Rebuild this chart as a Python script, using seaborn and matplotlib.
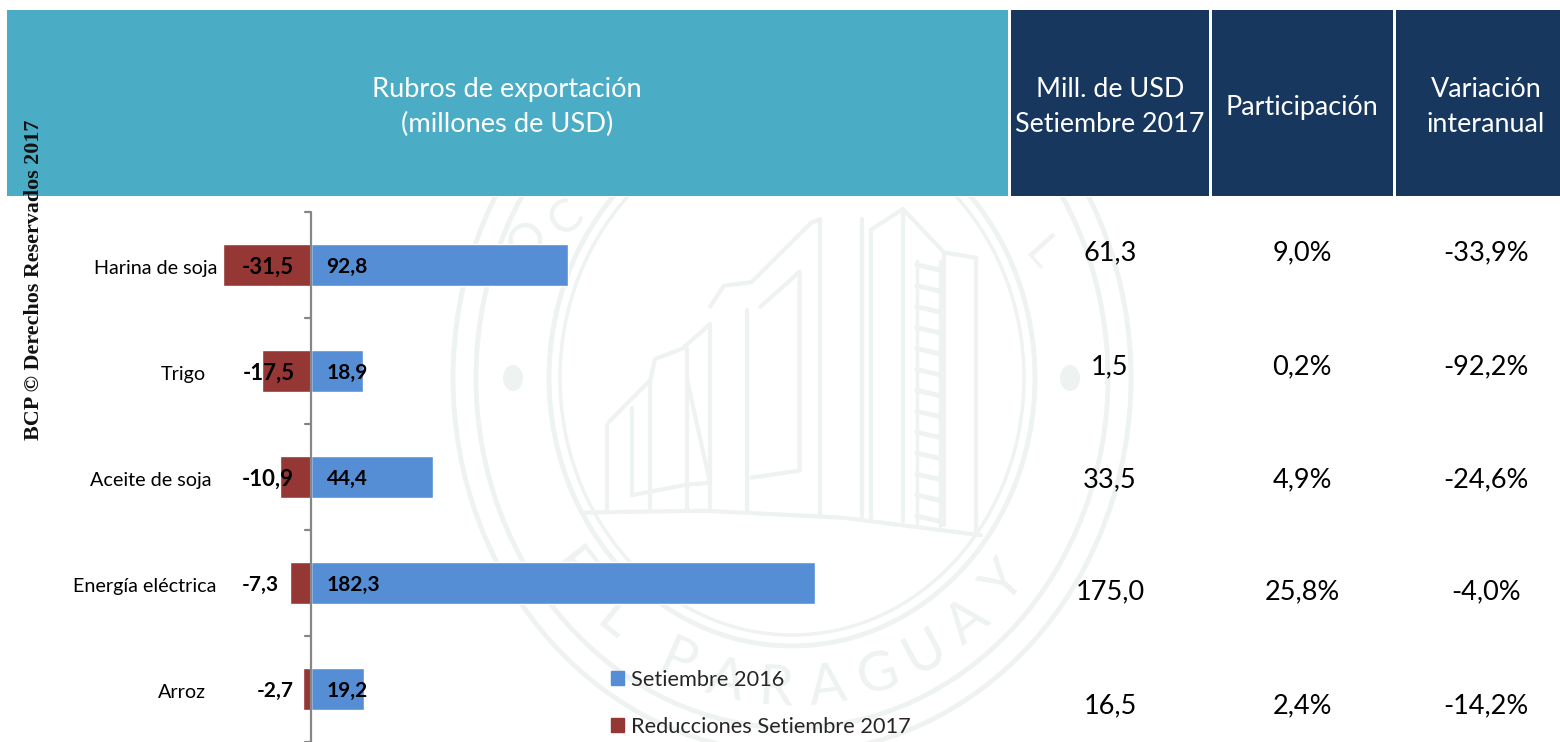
import numpy as np
import pandas as pd
import matplotlib
matplotlib.use("Agg")
import matplotlib.pyplot as plt
from matplotlib.patches import Rectangle, Ellipse
import seaborn as sns

categories = ["Harina de soja", "Trigo", "Aceite de soja", "Energía eléctrica", "Arroz"]
sep_2016 = [92.8, 18.9, 44.4, 182.3, 19.2]
reducciones = [-31.5, -17.5, -10.9, -7.3, -2.7]
labels_2016 = ["92,8", "18,9", "44,4", "182,3", "19,2"]
labels_red = ["-31,5", "-17,5", "-10,9", "-7,3", "-2,7"]
mill_usd = ["61,3", "1,5", "33,5", "175,0", "16,5"]
participacion = ["9,0%", "0,2%", "4,9%", "25,8%", "2,4%"]
variacion = ["-33,9%", "-92,2%", "-24,6%", "-4,0%", "-14,2%"]
headers = ["Mill. de USD\nSetiembre 2017", "Participación", "Variación\ninteranual"]

W, H = 1560, 742
sns.set_theme(style="white")
plt.rcParams["font.family"] = ["Lato", "DejaVu Sans"]
BLUE, RED, TEAL, NAVY = "#558ED5", "#953735", "#4BACC6", "#17375E"
WM = "#EEF2F0"

fig = plt.figure(figsize=(W / 100, H / 100), dpi=100, facecolor="white")

bg = fig.add_axes([0, 0, 1, 1], zorder=0)
bg.set_xlim(0, W); bg.set_ylim(H, 0); bg.axis("off")

# faint seal watermark
cx, cy = 792, 378
for rx, ry, lw in [(339, 375, 3.5), (316, 350, 3.5), (243, 268, 3.5), (232, 257, 2.5)]:
    bg.add_patch(Ellipse((cx, cy), 2 * rx, 2 * ry, fill=False, ec=WM, lw=lw))
for x in (513, 1070):
    bg.add_patch(Ellipse((x, 378), 20, 26, color=WM, lw=0))


def crop_line(xs, ys, lw=3.0):
    # watermark sketch, given in the coordinates of the zoomed crop
    bg.plot(430 + np.array(xs) / 2.178, 195 + np.array(ys) / 2.866, color=WM, lw=lw,
            solid_capstyle="round")


crop_line([330, 600, 900, 1200], [910, 905, 925, 975])
for x, top, bot in [(385, 660, 905), (440, 610, 860), (480, 530, 905), (560, 440, 905), (610, 370, 905),
                    (690, 330, 905), (850, 70, 915), (940, 70, 925), (960, 100, 925), (1030, 40, 935),
                    (1120, 170, 945), (1190, 180, 970)]:
    crop_line([x, x], [top, bot])
crop_line([390, 480, 490, 550, 610], [650, 530, 470, 440, 370])
crop_line([610, 640, 700, 830, 850], [320, 260, 250, 80, 70])
crop_line([720, 805, 805, 700], [320, 220, 790, 810])
crop_line([440, 560, 610, 560], [860, 830, 825, 530])
crop_line([960, 1030, 1120, 1190], [100, 40, 165, 180])
crop_line([1060, 1060], [190, 940], lw=2.5)
crop_line([1110, 1110], [190, 950], lw=2.5)
for y in np.arange(200, 950, 60):
    crop_line([1060, 1110], [y, y + 15], lw=3.5)

for ch, ang in zip("PARAGUAY", np.linspace(-24, 49, 8)):
    a = np.deg2rad(ang)
    bg.text(cx + 282 * np.sin(a), cy + 312 * np.cos(a), ch, rotation=ang, color=WM,
            fontsize=40, ha="center", va="center")
for ch, ang in zip("EL", (-52, -39)):
    a = np.deg2rad(ang)
    bg.text(cx + 282 * np.sin(a), cy + 312 * np.cos(a), ch, rotation=ang, color=WM,
            fontsize=40, ha="center", va="center")
for ch, x, y, rot in [("O", 528, 240, 48), ("C", 566, 218, 38), ("L", 1040, 254, -48)]:
    bg.text(x, y, ch, rotation=rot, color=WM, fontsize=34, ha="center", va="center")

# the seal stops at the header: nothing shows above it
bg.add_patch(Rectangle((0, 0), W, 197, color="white", lw=0, zorder=3))

# header blocks
bg.add_patch(Rectangle((7, 10), 1001, 186, color=TEAL, lw=0, zorder=4))
for x0, x1 in [(1011, 1209), (1212, 1393), (1396, 1560)]:
    bg.add_patch(Rectangle((x0, 10), x1 - x0, 186, color=NAVY, lw=0, zorder=4))
bg.text(507, 107, "Rubros de exportación\n(millones de USD)", color="white", fontsize=19.6,
        ha="center", va="center", linespacing=1.48, zorder=5)
for x, t in zip((1110, 1302, 1486), headers):
    bg.text(x, 107, t, color="white", fontsize=19.4, ha="center", va="center", linespacing=1.48, zorder=5)

# table columns
row_y = [253, 367, 480, 592, 706]
for x, col in zip((1110, 1302, 1486), (mill_usd, participacion, variacion)):
    for y, t in zip(row_y, col):
        bg.text(x, y, t, color="black", fontsize=19.5, ha="center", va="center")

# chart: axes spanning pixels x 0..1008, y 212..742
ax = fig.add_axes([0, 0, 1008 / W, (742 - 212) / H], zorder=1)
ax.patch.set_alpha(0)
df = pd.DataFrame({"Rubro": categories, "Setiembre 2016": sep_2016, "Reducciones Setiembre 2017": reducciones})
sns.barplot(data=df, y="Rubro", x="Setiembre 2016", color=BLUE, width=0.405, saturation=1,
            ax=ax, legend=False, order=categories)
sns.barplot(data=df, y="Rubro", x="Reducciones Setiembre 2017", color=RED, width=0.405, saturation=1,
            ax=ax, legend=False, order=categories)
scale = 2.77
ax.set_xlim(-310.5 / scale, (1008 - 310.5) / scale)
ax.set_ylim(4.5, -0.5)
ax.set_xlabel(""); ax.set_ylabel(""); ax.set_xticks([])
ax.set_yticks([]); ax.grid(False)
for s in ("top", "right", "bottom", "left"):
    ax.spines[s].set_visible(False)
ax.axvline(0, color="#868686", lw=1.6, zorder=5)
for t in np.arange(-0.5, 4.6, 1):
    ax.plot([-6 / scale, 0], [t, t], color="#868686", lw=1.6, clip_on=False, zorder=5)

cat_right = [217, 205, 211, 216, 205]
for i, c in enumerate(categories):
    ax.text((cat_right[i] - 310) / scale, i + 0.03, c, ha="right", va="center", fontsize=14.2,
            color="black", zorder=6)
red_center = [267, 268, 267, 260, 275]
red_size = [16, 16, 16, 15, 15]
for i, t in enumerate(labels_red):
    ax.text((red_center[i] - 310) / scale, i + 0.02, t, ha="center", va="center", fontsize=red_size[i],
            fontweight="bold", color="black", zorder=6)
for i, t in enumerate(labels_2016):
    ax.text(16 / scale, i + 0.02, t, ha="left", va="center", fontsize=15, fontweight="bold",
            color="black", zorder=6)

# legend
top = fig.add_axes([0, 0, 1, 1], zorder=2)
top.set_xlim(0, W); top.set_ylim(H, 0); top.axis("off")
handles = [Rectangle((0, 0), 1, 1, color=BLUE), Rectangle((0, 0), 1, 1, color=RED)]
top.legend(handles, ["Setiembre 2016", "Reducciones Setiembre 2017"], loc="lower left",
           bbox_to_anchor=(611 / W, (H - 737) / H), frameon=False, fontsize=15.7,
           handlelength=0.6, handleheight=0.6, handletextpad=0.3, labelspacing=1.25,
           borderpad=0, borderaxespad=0)

fig.text(34 / W, 1 - 280 / H, "BCP © Derechos Reservados 2017", rotation=90, ha="center", va="center",
         family=["Liberation Serif", "DejaVu Serif"], fontweight="bold", fontsize=15.8,
         color="#111111", zorder=5)

fig.savefig("out.png", dpi=100)
